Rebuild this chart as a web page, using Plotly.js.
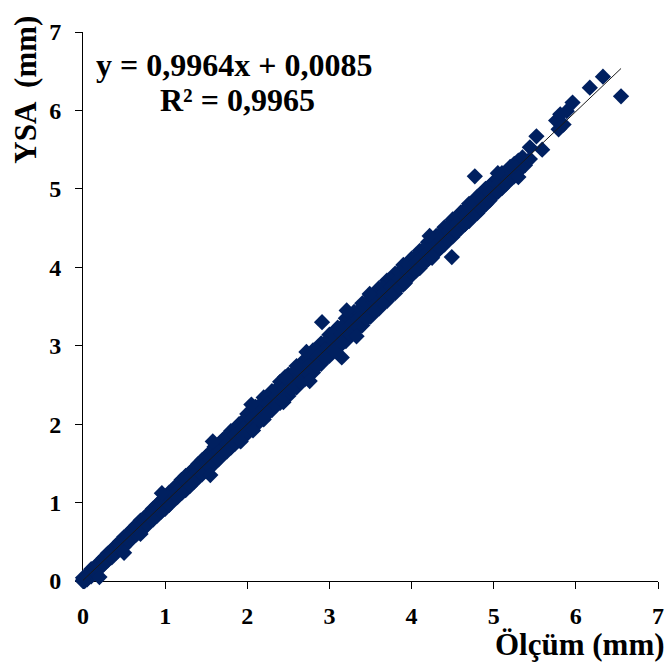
<!DOCTYPE html>
<html>
<head>
<meta charset="utf-8">
<script src="https://cdn.plot.ly/plotly-3.0.1.min.js"></script>
<style>html,body{margin:0;padding:0;background:#fff;}#chart{width:672px;height:666px;}</style>
</head>
<body>
<div id="chart"></div>
<script>
// The dense band is read as rows (upper edge, centre, lower edge) at each Ölçüm step.
const olcumBand = [0.0,0.1,0.2,0.3,0.4,0.5,0.6,0.7,0.8,0.9,
                   1.0,1.1,1.2,1.3,1.4,1.5,1.6,1.7,1.8,1.9,
                   2.0,2.1,2.2,2.3,2.4,2.5,2.6,2.7,2.8,2.9,
                   3.0,3.1,3.2,3.3,3.4,3.5,3.6,3.7,3.8,3.9,
                   4.0,4.1,4.2,4.3,4.4,4.5,4.6,4.7,4.8,4.9,
                   5.0,5.1,5.2,5.3];
const ysaUpper = [0.04,0.15,0.24,0.35,0.45,0.56,0.66,0.77,0.86,0.97,
                  1.08,1.17,1.29,1.38,1.49,1.59,1.71,1.80,1.91,2.00,
                  2.13,2.22,2.34,2.42,2.54,2.63,2.74,2.82,2.94,3.03,
                  3.14,3.23,3.35,3.43,3.54,3.64,3.73,3.83,3.92,4.03,
                  4.11,4.21,4.32,4.40,4.51,4.61,4.70,4.81,4.90,5.00,
                  5.09,5.20,5.28,5.36];
const ysaMid   = [0.01,0.10,0.21,0.30,0.41,0.50,0.61,0.70,0.81,0.90,
                  1.01,1.11,1.20,1.31,1.40,1.51,1.60,1.71,1.80,1.91,
                  2.01,2.11,2.20,2.31,2.40,2.51,2.60,2.71,2.80,2.91,
                  3.01,3.11,3.20,3.31,3.40,3.51,3.60,3.71,3.80,3.91,
                  4.01,4.10,4.21,4.30,4.41,4.50,4.61,4.70,4.80,4.90,
                  5.00,5.11,5.20,5.30];
const ysaLower = [0.00,0.06,0.16,0.26,0.36,0.44,0.55,0.63,0.74,0.83,
                  0.92,1.03,1.12,1.21,1.32,1.40,1.50,1.61,1.70,1.79,
                  1.88,1.98,2.06,2.18,2.27,2.36,2.47,2.57,2.66,2.77,
                  2.87,2.97,3.06,3.17,3.26,3.37,3.47,3.57,3.67,3.78,
                  3.90,3.99,4.10,4.19,4.29,4.39,4.50,4.59,4.69,4.80,
                  4.92,5.01,5.12,5.22];
// rows between the steps above
const olcumHalf = [0.05,0.15,0.25,0.35,0.45,0.55,0.65,0.75,0.85,0.95,
                   1.05,1.15,1.25,1.35,1.45,1.55,1.65,1.75,1.85,1.95,
                   2.05,2.15,2.25,2.35,2.45,2.55,2.65,2.75,2.85,2.95,
                   3.05,3.15,3.25,3.35,3.45,3.55,3.65,3.75,3.85,3.95,
                   4.05,4.15,4.25,4.35,4.45,4.55,4.65,4.75,4.85,4.95,
                   5.05,5.15,5.25];
const ysaHalfUp = [0.08,0.18,0.29,0.39,0.50,0.60,0.71,0.81,0.92,1.02,
                   1.13,1.23,1.34,1.43,1.54,1.64,1.74,1.84,1.94,2.04,
                   2.14,2.24,2.34,2.44,2.54,2.64,2.74,2.84,2.94,3.04,
                   3.14,3.24,3.34,3.44,3.54,3.64,3.74,3.84,3.94,4.04,
                   4.13,4.23,4.33,4.43,4.53,4.63,4.73,4.83,4.93,5.03,
                   5.12,5.22,5.32];
const ysaHalf   = [0.06,0.15,0.26,0.35,0.46,0.55,0.66,0.75,0.86,0.95,
                   1.06,1.15,1.26,1.35,1.46,1.55,1.66,1.75,1.86,1.95,
                   2.06,2.15,2.26,2.35,2.46,2.55,2.66,2.75,2.86,2.95,
                   3.06,3.15,3.26,3.35,3.46,3.55,3.66,3.75,3.86,3.95,
                   4.06,4.15,4.26,4.35,4.46,4.55,4.66,4.75,4.86,4.95,
                   5.06,5.15,5.26];
const ysaHalfLo = [0.02,0.11,0.21,0.30,0.40,0.49,0.59,0.68,0.78,0.88,
                   0.97,1.07,1.16,1.26,1.36,1.45,1.55,1.65,1.75,1.85,
                   1.95,2.05,2.14,2.24,2.34,2.44,2.54,2.64,2.74,2.84,
                   2.94,3.04,3.14,3.24,3.34,3.44,3.54,3.64,3.75,3.85,
                   3.95,4.05,4.15,4.25,4.35,4.45,4.55,4.65,4.75,4.85,
                   4.96,5.06,5.16];
// points standing out of the band and the sparse upper end
const olcumOut = [0.02,0.20,0.50,0.96,0.70,1.30,1.55,1.58,1.92,2.05,2.07,2.44,2.46,2.72,2.76,2.91,3.15,3.21,3.33,3.49,3.92,4.22,4.25,4.49,4.65,4.77,5.05,5.30,5.35,5.38,5.44,5.44,5.52,5.59,5.76,5.79,5.81,5.85,5.89,5.96,6.17,6.33,6.55];
const ysaOut   = [0.00,0.05,0.36,1.12,0.60,1.22,1.35,1.78,1.78,2.25,1.92,2.28,2.60,2.92,2.55,3.30,2.85,3.45,3.12,3.66,3.80,4.40,4.12,4.13,4.55,5.16,5.20,5.15,5.40,5.30,5.53,5.38,5.67,5.50,5.87,5.76,5.95,5.82,5.99,6.10,6.29,6.43,6.18];

// Linear trendline reported on the chart
const slope = 0.9964;
const intercept = 0.0085;
const eqText = "y = 0,9964x + 0,0085";
const r2Text = "R² = 0,9965";
const xTitle = "Ölçüm (mm)";
const yTitle = "YSA  (mm)";
const tickVals = [0,1,2,3,4,5,6,7];

const olcum = [].concat(olcumBand, olcumBand, olcumBand, olcumHalf, olcumHalf, olcumHalf, olcumOut);
const ysa = [].concat(ysaUpper, ysaMid, ysaLower, ysaHalfUp, ysaHalf, ysaHalfLo, ysaOut);
const xmax = Math.max(...olcum);
const trendX = [0, xmax];
const trendY = trendX.map(v => slope * v + intercept);

const serif = "'Liberation Serif', 'Times New Roman', serif";

const data = [
  {
    x: olcum, y: ysa, type: 'scatter', mode: 'markers', cliponaxis: false,
    marker: {symbol: 'diamond', size: 12.5, color: '#002060', line: {width: 0}},
    showlegend: false, hoverinfo: 'skip'
  },
  {
    x: trendX, y: trendY, type: 'scatter', mode: 'lines',
    line: {color: '#1a1a1a', width: 1},
    showlegend: false, hoverinfo: 'skip'
  }
];

const axisCommon = {
  range: [0, 7], tickvals: tickVals, ticktext: tickVals.map(String),
  showgrid: false, zeroline: false, showline: true, linecolor: '#000', linewidth: 1,
  ticks: 'outside', ticklen: 7, tickcolor: '#000', tickwidth: 1,
  tickfont: {family: serif, size: 24, color: '#000', weight: 'bold'},
  fixedrange: true, layer: 'below traces'
};

const layout = {
  width: 672, height: 666, autosize: false,
  margin: {l: 83, r: 14, t: 32, b: 85, pad: 0},
  paper_bgcolor: '#fff', plot_bgcolor: '#fff',
  xaxis: Object.assign({}, axisCommon, {ticklabelstandoff: 6}),
  yaxis: Object.assign({}, axisCommon, {ticklabelstandoff: 9}),
  annotations: [
    {text: eqText, xref: 'paper', yref: 'paper', x: 0.019, y: 0.94, xanchor: 'left', yanchor: 'middle',
     showarrow: false, font: {family: serif, size: 32, color: '#000', weight: 'bold'}},
    {text: r2Text, xref: 'paper', yref: 'paper', x: 0.268, y: 0.876, xanchor: 'center', yanchor: 'middle',
     showarrow: false, font: {family: serif, size: 32, color: '#000', weight: 'bold'}},
    {text: xTitle, xref: 'paper', yref: 'paper', x: 1.016, y: -0.1148, xanchor: 'right', yanchor: 'middle',
     showarrow: false, font: {family: serif, size: 31, color: '#000', weight: 'bold'}},
    {text: yTitle, xref: 'paper', yref: 'paper', x: -0.1, y: 0.894, xanchor: 'center', yanchor: 'middle',
     textangle: -90, showarrow: false, font: {family: serif, size: 31, color: '#000', weight: 'bold'}}
  ]
};

Plotly.newPlot('chart', data, layout, {staticPlot: true, displayModeBar: false});
</script>
</body>
</html>
